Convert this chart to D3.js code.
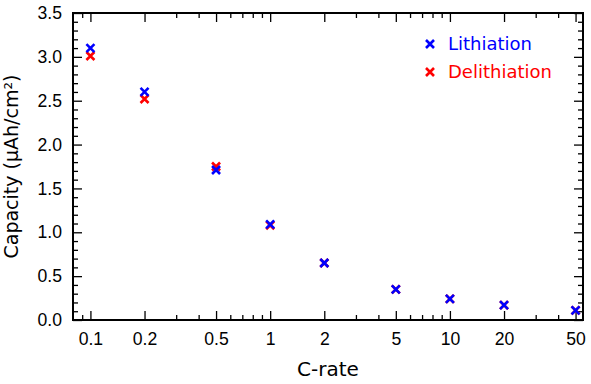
<!DOCTYPE html>
<html>
<head>
<meta charset="utf-8">
<script src="https://cdn.jsdelivr.net/npm/d3@7"></script>
<style>
  body { margin: 0; background: #fff; }
  svg { display: block; font-family: "DejaVu Sans", sans-serif; }
</style>
</head>
<body>
<div id="chart"></div>
<script>
'use strict';

// C-rates (log x axis)
var cRates       = [0.1, 0.2, 0.5, 1, 2, 5, 10, 20, 50];
var lithiation   = [3.10, 2.60, 1.71, 1.09, 0.65, 0.35, 0.24, 0.17, 0.11];
var delithiation = [3.01, 2.52, 1.75, 1.08, 0.65, 0.35, 0.24, 0.17, 0.11];

var xMajorTicks = [0.1, 0.2, 0.5, 1, 2, 5, 10, 20, 50];
var xMinorTicks = [0.09, 0.3, 0.4, 0.6, 0.7, 0.8, 0.9, 3, 4, 6, 7, 8, 9, 30, 40];
var yMajorTicks = [0, 0.5, 1, 1.5, 2, 2.5, 3, 3.5];
var yMinorTicks = d3.range(0, 35).map(function(i){ return i / 10; })
    .filter(function(v){ return Math.round(v * 10) % 5 !== 0; });

var series = [
    {name: "Delithiation", values: delithiation, color: "#ff0000"},
    {name: "Lithiation",   values: lithiation,   color: "#0000ff"}
];
var legendOrder = ["Lithiation", "Delithiation"];

var W = 591, H = 384;
var margin = {top: 13, right: 8, bottom: 64, left: 73};
var width  = W - margin.left - margin.right,
    height = H - margin.top - margin.bottom;

var svg = d3.select("#chart").append("svg")
    .attr("width", W).attr("height", H);

var g = svg.append("g")
    .attr("transform", "translate(" + margin.left + "," + margin.top + ")");

var x = d3.scaleLog().domain([0.08, 55]).range([0, width]);
var y = d3.scaleLinear().domain([0, 3.5]).range([height, 0]);

var fmt = function(d){ return String(d); };

// ticks pointing inwards on all four sides
function tickSet(axisFn, scale, values, len, labels, fmtFn) {
    return axisFn(scale).tickValues(values).tickSizeInner(-len).tickSizeOuter(0)
        .tickFormat(labels ? fmtFn : "");
}

function styleAxis(sel) {
    sel.select(".domain").remove();
    sel.selectAll(".tick line").attr("stroke", "#000").attr("stroke-width", 1.3);
    sel.selectAll(".tick text").attr("fill", "#000").style("font-size", "17.6px");
}

// bottom
g.append("g").attr("transform", "translate(0," + height + ")")
    .call(tickSet(d3.axisBottom, x, xMajorTicks, 9, true, fmt).tickPadding(13))
    .call(styleAxis);
g.append("g").attr("transform", "translate(0," + height + ")")
    .call(tickSet(d3.axisBottom, x, xMinorTicks, 5, false)).call(styleAxis);
// top
g.append("g").call(tickSet(d3.axisTop, x, xMajorTicks, 9, false)).call(styleAxis);
g.append("g").call(tickSet(d3.axisTop, x, xMinorTicks, 5, false)).call(styleAxis);
// left
g.append("g")
    .call(tickSet(d3.axisLeft, y, yMajorTicks, 9, true, d3.format(".1f")).tickPadding(11))
    .call(styleAxis);
g.append("g").call(tickSet(d3.axisLeft, y, yMinorTicks, 5, false)).call(styleAxis);
// right
g.append("g").attr("transform", "translate(" + width + ",0)")
    .call(tickSet(d3.axisRight, y, yMajorTicks, 9, false)).call(styleAxis);
g.append("g").attr("transform", "translate(" + width + ",0)")
    .call(tickSet(d3.axisRight, y, yMinorTicks, 5, false)).call(styleAxis);

// frame
g.append("rect")
    .attr("width", width).attr("height", height)
    .attr("fill", "none").attr("stroke", "#000").attr("stroke-width", 2);

// x markers
function cross(sel, s) {
    sel.append("path")
        .attr("d", "M" + (-s) + "," + (-s) + "L" + s + "," + s +
                   "M" + (-s) + "," + s + "L" + s + "," + (-s))
        .attr("stroke-width", 2.6)
        .attr("fill", "none");
}

series.forEach(function(s){
    var pts = g.append("g").selectAll("g").data(cRates).enter().append("g")
        .attr("transform", function(d, i){
            return "translate(" + x(d) + "," + y(s.values[i]) + ")";
        })
        .attr("stroke", s.color);
    pts.each(function(){ cross(d3.select(this), 4); });
});

// legend
var legend = g.append("g").attr("transform", "translate(" + (430 - margin.left) + "," + (44 - margin.top) + ")");
legendOrder.forEach(function(name, i){
    var s = series.filter(function(d){ return d.name === name; })[0];
    var row = legend.append("g").attr("transform", "translate(0," + (i * 28) + ")");
    row.append("g").attr("stroke", s.color).call(function(sel){ cross(sel, 4); });
    row.append("text")
        .attr("x", 18).attr("y", 0).attr("dy", "0.35em")
        .attr("fill", s.color)
        .style("font-size", "18px")
        .text(name);
});

// axis titles
svg.append("text")
    .attr("x", margin.left + width / 2).attr("y", 376)
    .attr("text-anchor", "middle")
    .style("font-size", "20px")
    .text("C-rate");

svg.append("text")
    .attr("transform", "translate(18," + (margin.top + height / 2) + ") rotate(-90)")
    .attr("text-anchor", "middle")
    .style("font-size", "19px")
    .text("Capacity (µAh/cm²)");
</script>
</body>
</html>
